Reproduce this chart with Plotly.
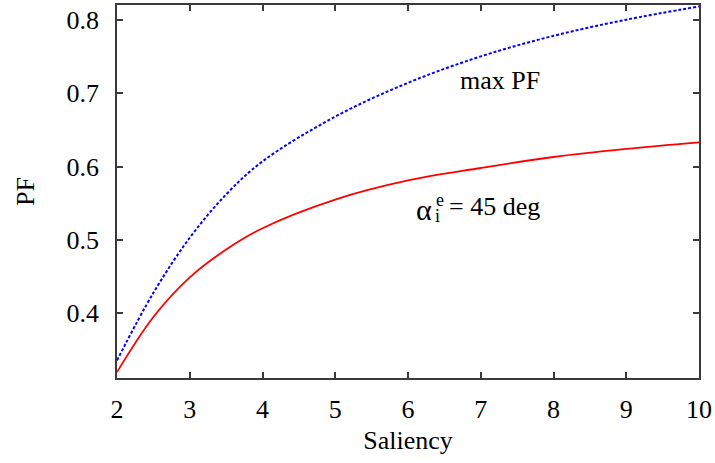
import plotly.graph_objects as go

saliency = [2, 2.5, 3, 3.5, 4, 5, 6, 7, 8, 9, 10]
max_pf = [0.336, 0.428, 0.503, 0.562, 0.607, 0.668, 0.714, 0.750, 0.778, 0.800, 0.818]
pf_45 = [0.320, 0.395, 0.449, 0.487, 0.516, 0.555, 0.581, 0.598, 0.613, 0.624, 0.633]

x_ticks = [2, 3, 4, 5, 6, 7, 8, 9, 10]
y_ticks = [0.4, 0.5, 0.6, 0.7, 0.8]

FONT = "Liberation Serif, Times New Roman, Times, serif"
AX = "#3a3a3a"

fig = go.Figure()
fig.add_trace(go.Scatter(x=saliency, y=max_pf, mode="lines", line_shape="spline",
                         line=dict(color="#0000ff", width=2, dash="3px,2px"),
                         showlegend=False))
fig.add_trace(go.Scatter(x=saliency, y=pf_45, mode="lines", line_shape="spline",
                         line=dict(color="#ff0000", width=1.8),
                         showlegend=False))

fig.add_annotation(x=7.26, y=0.717, text="max PF", showarrow=False,
                   font=dict(family=FONT, size=26, color="black"))
fig.add_annotation(x=6.216, y=0.541, text="α", showarrow=False,
                   font=dict(family=FONT, size=30, color="black"))
fig.add_annotation(x=6.44, y=0.555, text="e", showarrow=False,
                   font=dict(family=FONT, size=18, color="black"))
fig.add_annotation(x=6.40, y=0.533, text="i", showarrow=False,
                   font=dict(family=FONT, size=18, color="black"))
fig.add_annotation(x=6.53, y=0.545, text="= 45 deg", showarrow=False, xanchor="left",
                   font=dict(family=FONT, size=26, color="black"))

fig.update_layout(
    width=715, height=463,
    margin=dict(l=117, r=16, t=5, b=85),
    paper_bgcolor="white", plot_bgcolor="white",
    font=dict(family=FONT, size=26, color="black"),
)
fig.update_xaxes(range=[2, 10], tickvals=x_ticks, ticks="inside", ticklen=6, tickwidth=1.5,
                 tickcolor=AX, showline=True, linecolor=AX, linewidth=1.5, mirror="ticks",
                 showgrid=False, zeroline=False, ticklabelstandoff=7, automargin=False,
                 title=dict(text="Saliency", standoff=8, font=dict(size=26)))
fig.update_yaxes(range=[0.312, 0.82], tickvals=y_ticks, ticks="inside", ticklen=6, tickwidth=1.5,
                 tickcolor=AX, showline=True, linecolor=AX, linewidth=1.5, mirror="ticks",
                 showgrid=False, zeroline=False, ticklabelstandoff=11, automargin=False,
                 title=dict(text="PF", standoff=24, font=dict(size=26)))

fig.write_html("out.html", config={"displayModeBar": False},
               post_script="document.body.style.margin='0px';")
